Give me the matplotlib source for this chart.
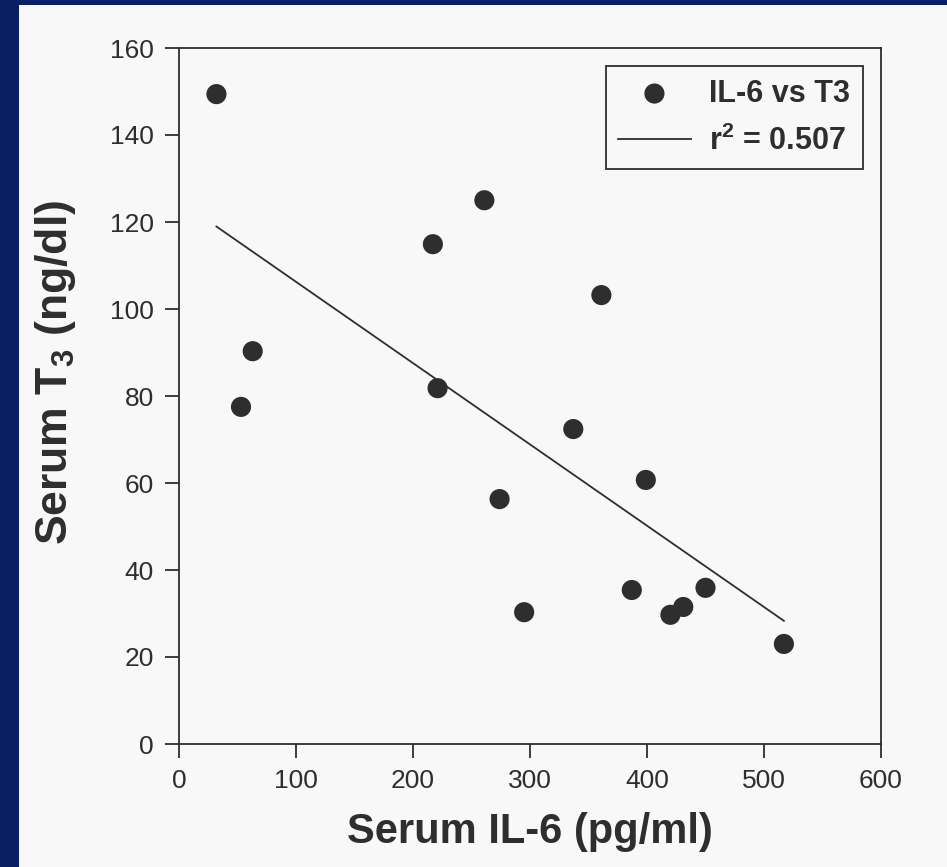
import matplotlib.pyplot as plt
import matplotlib.patches as patches
import numpy as np

my_dpi = 100

# serum IL-6 (pg/ml) vs serum T3 (ng/dl)
il6 = [32, 53, 63, 217, 221, 261, 274, 295, 361, 337, 399, 387, 420, 431, 450, 517]
t3 = [149.4, 77.5, 90.3, 114.9, 81.8, 125, 56.3, 30.3, 103.2, 72.4, 60.7, 35.4, 29.7, 31.5, 35.9, 23]
xticks = [0, 100, 200, 300, 400, 500, 600]
yticks = [0, 20, 40, 60, 80, 100, 120, 140, 160]

ink = '#2e2e2e'
paper = '#f8f8f8'
blue = '#0a1f62'

plt.rcParams['font.family'] = ['Liberation Sans', 'DejaVu Sans']
plt.rcParams['mathtext.fontset'] = 'custom'
plt.rcParams['mathtext.rm'] = 'Liberation Sans:bold'
plt.rcParams['mathtext.bf'] = 'Liberation Sans:bold'

fig = plt.figure(figsize=(947/my_dpi, 867/my_dpi), dpi=my_dpi, facecolor=blue)
# page area (blue strip only on the left and top)
fig.patches.append(patches.Rectangle((19/947, 0), 1, 1 - 5/867, transform=fig.transFigure,
                                     facecolor=paper, edgecolor='none', zorder=-5))

ax = fig.add_axes([179/947, 1 - 744/867, 702/947, 696/867])
ax.set_facecolor('none')

a, b = np.polyfit(il6, t3, 1)
xs = np.array([min(il6), max(il6)])
ax.plot(xs, a * xs + b, color=ink, lw=1.3, label=r'$\mathbf{r}^{\mathbf{2}}$ = 0.507')
ax.scatter(il6, t3, s=210, color=ink, edgecolor='none', label='IL-6 vs T3', zorder=3)

ax.set_xlim(0, 600)
ax.set_ylim(0, 160)
ax.set_xticks(xticks)
ax.set_yticks(yticks)
ax.tick_params(direction='out', length=10, width=1.3, labelsize=19, colors=ink, pad=8)
for s in ax.spines.values():
    s.set_color(ink)
    s.set_linewidth(1.3)

ax.set_xlabel('Serum IL-6 (pg/ml)', fontsize=30, fontweight='bold', color=ink, labelpad=14)
ax.set_ylabel(r'Serum T$_{\mathbf{3}}$ (ng/dl)', fontsize=32, fontweight='bold', color=ink)
ax.yaxis.set_label_coords(-0.144, 0.534)

h, l = ax.get_legend_handles_labels()
leg = ax.legend(h[::-1], l[::-1], loc='upper right', fontsize=22, frameon=True, fancybox=False,
                edgecolor=ink, facecolor=paper, framealpha=1, handlelength=2.4,
                handletextpad=0.6, labelspacing=0.55, borderaxespad=0.6)
for t in leg.get_texts():
    t.set_fontweight('bold')
    t.set_color(ink)
leg.get_frame().set_linewidth(1.3)

plt.savefig('out.png', dpi=my_dpi, facecolor=fig.get_facecolor())
